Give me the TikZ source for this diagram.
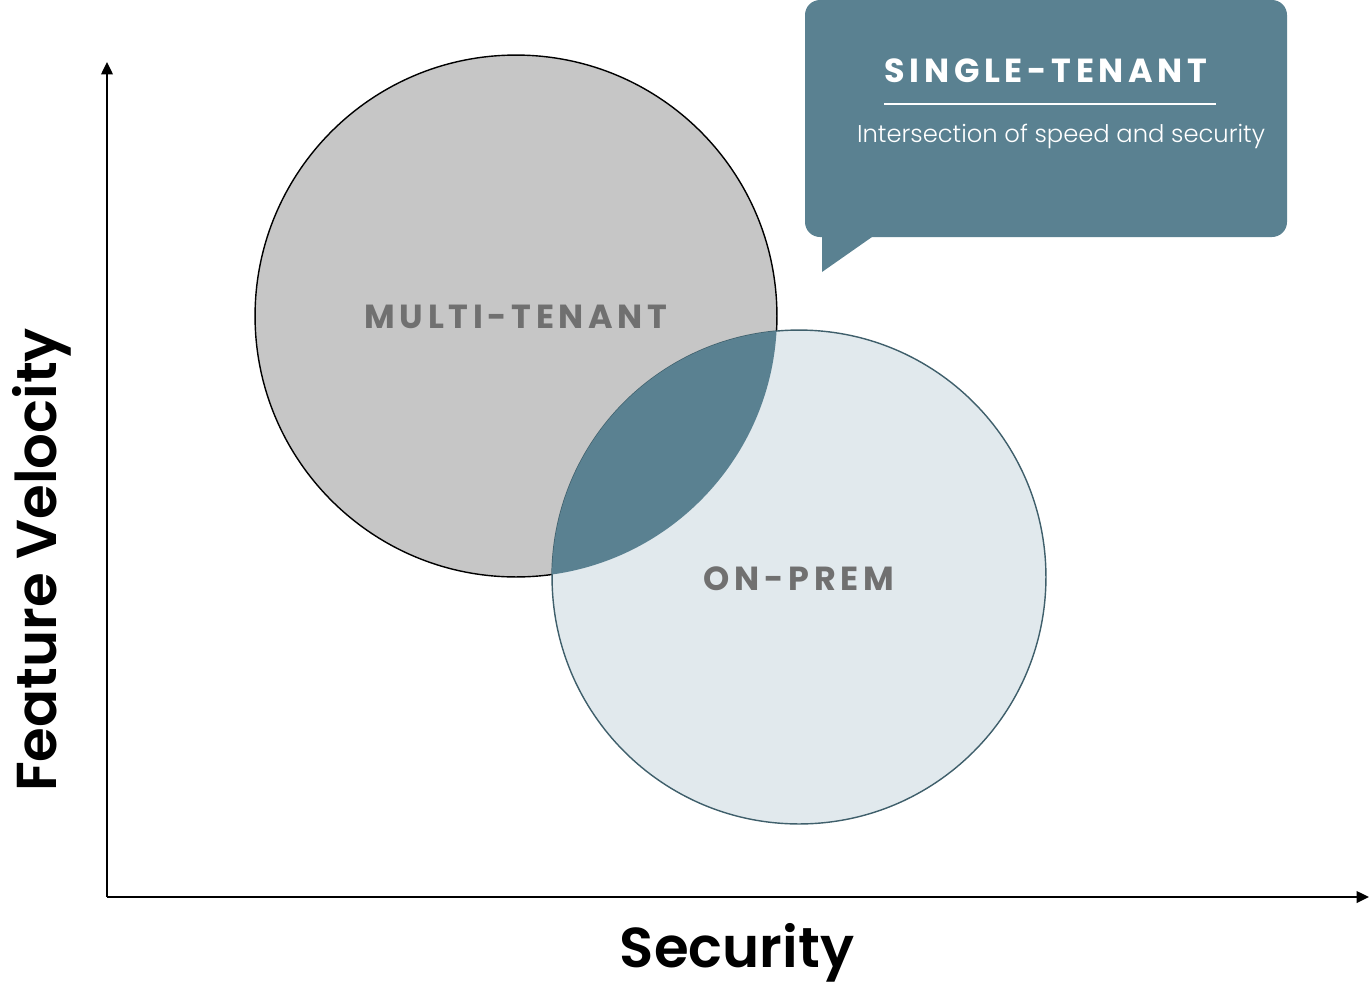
\documentclass[tikz,border=0pt]{standalone}
\usepackage{fontspec}
\setmainfont{Poppins}
\newfontfamily\heavyfont{Poppins}[UprightFont=* SemiBold]
\newfontfamily\spacedfont{Poppins}[UprightFont=* Bold,LetterSpace=14]
\newfontfamily\lightfont{Poppins}[UprightFont=* Light]
\usetikzlibrary{arrows.meta}

\definecolor{teal}{HTML}{5A8191}
\definecolor{multigray}{HTML}{C6C6C6}
\definecolor{premblue}{HTML}{E1E9ED}
\definecolor{premline}{HTML}{3F5F6B}
\definecolor{labelgray}{HTML}{707070}

\tikzset{
  axis/.style={line width=1.2pt,-{Triangle[length=7pt,width=6.5pt]}},
  setlabel/.style={text=labelgray,font=\spacedfont\fontsize{19}{22}\selectfont},
  axislabel/.style={text=black,inner sep=0pt,font=\heavyfont\fontsize{32}{38}\selectfont}
}

\begin{document}
\begin{tikzpicture}[x=0.02cm,y=-0.02cm]
\useasboundingbox (0,0) rectangle (1370,988);

% sets
\fill[multigray] (516,316) circle (5.22cm);
\draw[black,line width=0.8pt] (516,316) circle (5.22cm);
\fill[premblue] (799,577) circle (4.94cm);
\draw[premline,line width=0.8pt] (799,577) circle (4.94cm);
\begin{scope}
\clip (516,316) circle (5.22cm);
\fill[teal] (799,577) circle (4.94cm);
\end{scope}

\node[setlabel] (multi) at (516,317) {MULTI-TENANT};
\node[setlabel] (prem) at (799,579) {ON-PREM};

% axes
\coordinate (origin) at (107,897);
\coordinate (ytip) at (107,62);
\coordinate (xtip) at (1369,897);
\draw[axis] (origin) -- (ytip);
\draw[axis] (origin) -- (xtip);
\node[axislabel] (xlab) at (737,953) {Security};
\node[axislabel,rotate=90] (ylab) at (42,560) {Feature Velocity};

% callout
\fill[teal,rounded corners=0.3cm] (805,0) rectangle (1287,237);
\fill[teal] (822,225) -- (822,272) -- (872,237) -- (822,237) -- cycle;
\node[text=white,font=\spacedfont\fontsize{19}{22}\selectfont] (single) at (1046,71) {SINGLE-TENANT};
\coordinate (ruleL) at (884,104);
\coordinate (ruleR) at (1216,104);
\draw[white,line width=1pt] (ruleL) -- (ruleR);
\node[text=white,font=\lightfont\fontsize{13.8}{17}\selectfont] (sub) at (1061,136) {Intersection of speed and security};
\end{tikzpicture}
\end{document}
